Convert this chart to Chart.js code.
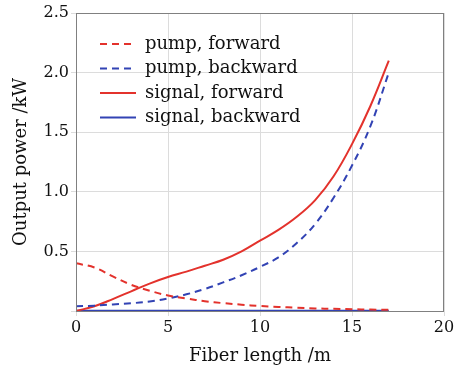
<!DOCTYPE html>
<html>
<head>
<meta charset="utf-8">
<script src="https://cdn.jsdelivr.net/npm/chart.js@4/dist/chart.umd.min.js"></script>
<style>
  html, body { margin: 0; padding: 0; background: #fff; }
  #wrap { width: 470px; height: 367px; }
</style>
</head>
<body>
<div id="wrap"><canvas id="powerChart"></canvas></div>
<script>
// fiber position (m) and power (kW)
const fiberLength = [0, 1, 2, 3, 4, 5, 6, 7, 8, 9, 10, 11, 12, 13, 14, 15, 16, 17];
const pumpForward = [0.4, 0.365, 0.29, 0.22, 0.17, 0.13, 0.105, 0.082, 0.066, 0.053, 0.042, 0.034, 0.028, 0.022, 0.018, 0.015, 0.012, 0.01];
const pumpBackward = [0.04, 0.045, 0.055, 0.065, 0.08, 0.105, 0.14, 0.185, 0.24, 0.3, 0.37, 0.45, 0.57, 0.73, 0.95, 1.22, 1.55, 2.0];
const signalForward = [0.0, 0.04, 0.1, 0.165, 0.23, 0.285, 0.33, 0.38, 0.43, 0.5, 0.59, 0.68, 0.79, 0.93, 1.13, 1.4, 1.72, 2.1];
const signalBackward = [0.003, 0.003, 0.003, 0.003, 0.003, 0.003, 0.003, 0.003, 0.003, 0.003, 0.003, 0.003, 0.003, 0.003, 0.003, 0.003, 0.003, 0.003];
const seriesNames = ['pump, forward', 'pump, backward', 'signal, forward', 'signal, backward'];
const xTicks = [0, 5, 10, 15, 20];
const yTicks = [0.5, 1.0, 1.5, 2.0, 2.5];

const RED = '#e3322c';
const BLUE = '#3243b4';
const SERIF = '"DejaVu Serif", serif';

function pts(ys) {
    return fiberLength.map((x, i) => ({ x: x, y: ys[i] }));
}

function line(label, ys, color, dashed) {
    return {
        label: label,
        data: pts(ys),
        borderColor: color,
        backgroundColor: color,
        borderWidth: 2,
        borderDash: dashed ? [7, 5] : [],
        pointRadius: 0,
        tension: 0.4,
        fill: false
    };
}

// legend inside the plot with dashed samples, plus the box around the plot
const framePlugin = {
    id: 'frame',
    afterDraw(chart) {
        const ctx = chart.ctx;
        const a = chart.chartArea;
        ctx.save();
        ctx.strokeStyle = '#808080';
        ctx.lineWidth = 1;
        ctx.strokeRect(a.left + 0.5, a.top + 0.5, a.right - a.left - 1, a.bottom - a.top);

        ctx.font = '18px ' + SERIF;
        ctx.textBaseline = 'middle';
        ctx.fillStyle = '#111';
        chart.data.datasets.forEach((ds, i) => {
            const y = 44 + i * 24.5;
            ctx.strokeStyle = ds.borderColor;
            ctx.lineWidth = 2;
            ctx.setLineDash(ds.borderDash);
            ctx.beginPath();
            ctx.moveTo(100, y);
            ctx.lineTo(136, y);
            ctx.stroke();
            ctx.setLineDash([]);
            ctx.fillText(ds.label, 145, y);
        });
        ctx.restore();
    }
};

const powerCtx = document.getElementById('powerChart').getContext('2d');
const powerChart = new Chart(powerCtx, {
    type: 'line',
    data: {
        datasets: [
            line(seriesNames[0], pumpForward, RED, true),
            line(seriesNames[1], pumpBackward, BLUE, true),
            line(seriesNames[2], signalForward, RED, false),
            line(seriesNames[3], signalBackward, BLUE, false)
        ]
    },
    options: {
        responsive: true,
        maintainAspectRatio: false,
        animation: false,
        layout: { padding: { top: 13, right: 26, left: 0, bottom: 0 } },
        plugins: { legend: { display: false }, tooltip: { enabled: false } },
        scales: {
            x: {
                type: 'linear',
                min: 0,
                max: 20,
                afterBuildTicks: s => { s.ticks = xTicks.map(v => ({ value: v })); },
                afterFit: s => { s.height = 56; },
                grid: { color: '#dcdcdc', tickLength: 5, tickColor: '#dcdcdc' },
                border: { display: false },
                ticks: { color: '#111', font: { family: SERIF, size: 16 }, padding: 2, maxRotation: 0 },
                title: { display: true, text: 'Fiber length /m', color: '#111', font: { family: SERIF, size: 18 }, padding: { top: 1, bottom: 0 } }
            },
            y: {
                type: 'linear',
                min: 0,
                max: 2.5,
                afterBuildTicks: s => { s.ticks = [0].concat(yTicks).map(v => ({ value: v })); },
                afterFit: s => { s.width = 76; },
                grid: { color: '#dcdcdc', tickLength: 5, tickColor: '#dcdcdc' },
                border: { display: false },
                ticks: {
                    color: '#111',
                    font: { family: SERIF, size: 16 },
                    padding: 2,
                    callback: v => v === 0 ? '' : v.toFixed(1)
                },
                title: { display: true, text: 'Output power /kW', color: '#111', font: { family: SERIF, size: 18 }, padding: { top: 11, bottom: 4 } }
            }
        }
    },
    plugins: [framePlugin]
});
</script>
</body>
</html>
